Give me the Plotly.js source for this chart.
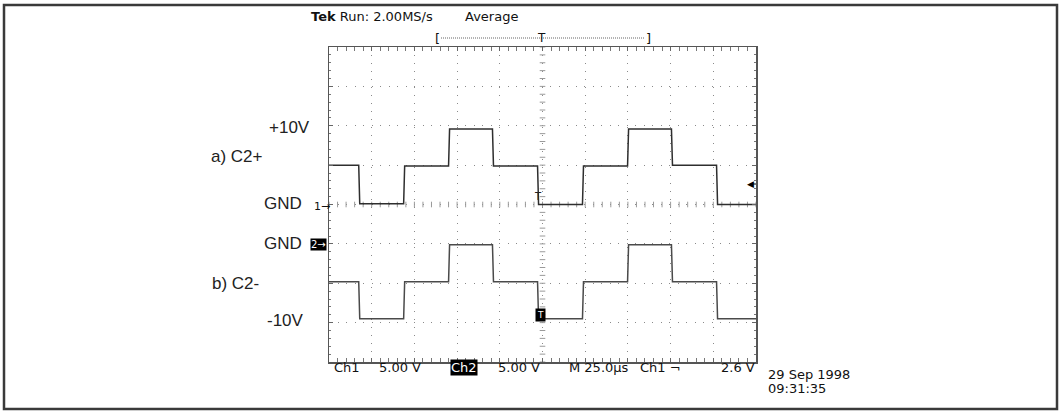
<!DOCTYPE html>
<html>
<head>
<meta charset="utf-8">
<script src="https://cdn.plot.ly/plotly-3.0.1.min.js"></script>
<style>html,body{margin:0;padding:0;background:#fff;}#chart{width:1062px;height:412px;}</style>
</head>
<body>
<div id="chart"></div>
<script>
// ---- data (time in µs, 0 = trigger / screen centre) ----
const edgeTimes = [-107.3, -81.0, -54.7, -29.0, -2.6, 23.7, 50.1, 75.8, 102.2];
const ch1Levels = [5.0, 0.1, 4.9, 9.6, 4.9, 0.0, 4.9, 9.6, 5.0, 0.0];      // volts, Ch1 (C2+)
const ch2Levels = [-4.8, -9.5, -4.8, -0.1, -4.8, -9.5, -4.8, -0.1, -4.8, -9.5]; // volts, Ch2 (C2-)
const timeRange = [-125, 125];
const voltsPerDiv = 5;
const usPerDiv = 25;

function stepWave(levels) {
  const x = [timeRange[0]], y = [levels[0]];
  edgeTimes.forEach((t, i) => {
    x.push(t - 0.3); y.push(levels[i]);
    x.push(t + 0.3); y.push(levels[i + 1]);
  });
  x.push(timeRange[1]); y.push(levels[levels.length - 1]);
  return {x, y};
}
const w1 = stepWave(ch1Levels);
const w2 = stepWave(ch2Levels);

// graticule centre tick marks (every 1/5 division)
const cx = [], cy = [], vx = [], vy = [];
for (let t = timeRange[0]; t <= timeRange[1] + 1e-9; t += usPerDiv / 5) { cx.push(t); cy.push(0); }
for (let v = -4 * voltsPerDiv; v <= 4 * voltsPerDiv + 1e-9; v += voltsPerDiv / 5) { vx.push(0); vy.push(v); }

const traces = [
  {x: cx, y: cy, mode: 'markers', marker: {symbol: 'line-ns', size: 4, line: {width: 1, color: '#9a9a9a'}}, hoverinfo: 'skip'},
  {x: vx, y: vy, mode: 'markers', marker: {symbol: 'line-ew', size: 4, line: {width: 1, color: '#9a9a9a'}}, hoverinfo: 'skip'},
  {x: w1.x, y: w1.y, mode: 'lines', line: {color: '#2e2e2e', width: 1.5}, yaxis: 'y'},
  {x: w2.x, y: w2.y, mode: 'lines', line: {color: '#4a4a4a', width: 1.5}, yaxis: 'y2'}
];

const L = 329, R = 756, T = 47, B = 362;
const X = px => (px - L) / (R - L);
const Y = py => (B - py) / (B - T);

const scope = {family: 'DejaVu Sans', size: 13, color: '#111'};
const big = {family: 'Liberation Sans, Arial', size: 17, color: '#222'};

function ann(text, px, py, font, xanchor, extra) {
  return Object.assign({text, x: X(px), y: Y(py), xref: 'paper', yref: 'paper', showarrow: false,
    xanchor: xanchor || 'left', yanchor: 'middle', font}, extra || {});
}

const annotations = [
  ann('<b>Tek</b> Run: 2.00MS/s', 309, 17, scope),
  ann('Average', 463, 17, scope),
  ann('[', 437, 38, {family: 'DejaVu Sans', size: 13, color: '#111'}, 'center'),
  ann(']', 648, 38, {family: 'DejaVu Sans', size: 13, color: '#111'}, 'center'),
  ann('T', 541, 38, {family: 'DejaVu Sans', size: 12, color: '#111'}, 'center'),

  ann('+10V', 312, 127, big, 'right'),
  ann('a) C2+', 209, 156, big, 'left'),
  ann('GND', 304, 203, big, 'right'),
  ann('1→', 312, 206, {family: 'DejaVu Sans', size: 11, color: '#111'}, 'left'),
  ann('GND', 304, 243, big, 'right'),
  ann('2→', 318, 244, {family: 'DejaVu Sans', size: 10, color: '#fff'}, 'center', {bgcolor: '#000', borderpad: 0}),
  ann('b) C2-', 210, 283, big, 'left'),
  ann('-10V', 306, 320, big, 'right'),

  ann('T', 538, 196, {family: 'DejaVu Sans', size: 10, color: '#222'}, 'center'),
  ann('T', 540, 315, {family: 'DejaVu Sans', size: 9, color: '#fff'}, 'center', {bgcolor: '#000', borderpad: 1}),
  ann('◀', 750, 184, {family: 'DejaVu Sans', size: 9, color: '#000'}, 'center'),

  ann('Ch1', 332, 367, scope),
  ann('5.00 V', 377, 367, scope),
  ann('Ch2', 464, 367, {family: 'DejaVu Sans', size: 13, color: '#fff'}, 'center', {bgcolor: '#000', borderpad: 0}),
  ann('5.00 V', 496, 367, scope),
  ann('M 25.0µs', 567, 367, scope),
  ann('Ch1 ¬', 638, 367, scope),
  ann('2.6 V', 719, 367, scope),
  ann('29 Sep 1998', 766, 374, scope),
  ann('09:31:35', 766, 388, scope)
];

const shapes = [
  {type: 'rect', xref: 'paper', yref: 'paper', x0: X(4), x1: X(1057), y0: Y(409), y1: Y(5),
   line: {color: '#3a3a3a', width: 2.5}},
  {type: 'line', xref: 'paper', yref: 'paper', x0: X(441), x1: X(645), y0: Y(38), y1: Y(38),
   line: {color: '#666', width: 1, dash: '1px,1px'}},
  {type: 'line', xref: 'paper', yref: 'paper', x0: X(751), x1: X(756), y0: Y(184), y1: Y(184),
   line: {color: '#000', width: 1}}
];

const axCommon = {
  showgrid: true, gridcolor: '#8a8a8a', gridwidth: 1,
  zeroline: false, showticklabels: false,
  showline: true, linecolor: '#555', linewidth: 1.5, mirror: 'allticks',
  ticks: 'inside', ticklen: 4, tickcolor: '#666', tickwidth: 1
};

const layout = {
  width: 1062, height: 412,
  margin: {l: L, r: 1062 - R, t: T, b: 412 - B, pad: 0},
  paper_bgcolor: '#fff', plot_bgcolor: '#fff',
  showlegend: false, hovermode: false,
  xaxis: Object.assign({}, axCommon, {range: timeRange, tick0: 0, dtick: usPerDiv, griddash: '1px,7px',
    minor: {dtick: usPerDiv / 5, ticks: 'inside', ticklen: 2, tickcolor: '#777', showgrid: false}}),
  yaxis: Object.assign({}, axCommon, {range: [-4 * voltsPerDiv, 4 * voltsPerDiv], tick0: 0, dtick: voltsPerDiv, griddash: '1px,7.5px',
    minor: {dtick: voltsPerDiv / 5, ticks: 'inside', ticklen: 2, tickcolor: '#777', showgrid: false}}),
  yaxis2: {overlaying: 'y', range: [-3 * voltsPerDiv, 5 * voltsPerDiv], visible: false, showgrid: false, zeroline: false},
  annotations, shapes
};

Plotly.newPlot('chart', traces, layout, {staticPlot: true, displayModeBar: false});
</script>
</body>
</html>
